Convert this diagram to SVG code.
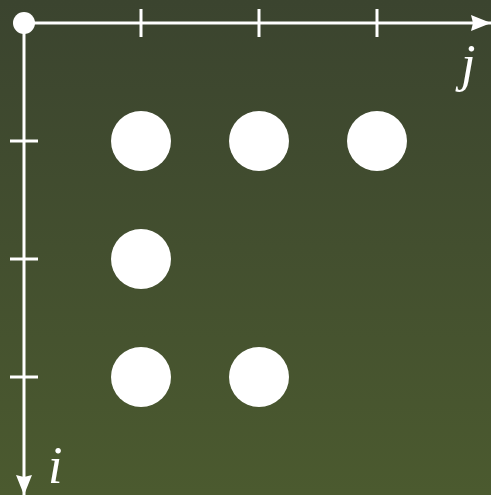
<svg xmlns="http://www.w3.org/2000/svg" width="491" height="495" viewBox="0 0 491 495">
<defs>
<linearGradient id="bg" x1="0" y1="0" x2="0" y2="1">
<stop offset="0" stop-color="#3b442f"/>
<stop offset="1" stop-color="#4b5a2f"/>
</linearGradient>
<marker id="arr" viewBox="0 0 20 16" refX="20" refY="8" markerWidth="20" markerHeight="16" markerUnits="userSpaceOnUse" orient="auto">
<path d="M0,0 L20,8 L0,16 L2,8 Z" fill="#fff"/>
</marker>
<style>
.ax{stroke:#fff;stroke-width:3;fill:none}
.dot{fill:#fff}
.lbl{font-family:"Liberation Serif",serif;font-style:italic;font-size:52px;fill:#fff}
</style>
</defs>
<rect width="491" height="495" fill="url(#bg)"/>
<g id="connectors">
<line class="ax" x1="24" y1="23" x2="491" y2="23" marker-end="url(#arr)"/>
<line class="ax" x1="24" y1="23" x2="24" y2="495" marker-end="url(#arr)"/>
<line class="ax" x1="141" y1="9" x2="141" y2="37"/>
<line class="ax" x1="259" y1="9" x2="259" y2="37"/>
<line class="ax" x1="377" y1="9" x2="377" y2="37"/>
<line class="ax" x1="10" y1="141" x2="38" y2="141"/>
<line class="ax" x1="10" y1="259" x2="38" y2="259"/>
<line class="ax" x1="10" y1="377" x2="38" y2="377"/>
</g>
<g id="origin"><circle class="dot" cx="24" cy="23" r="11"/></g>
<g id="p11"><circle class="dot" cx="141" cy="141" r="30"/></g>
<g id="p12"><circle class="dot" cx="259" cy="141" r="30"/></g>
<g id="p13"><circle class="dot" cx="377" cy="141" r="30"/></g>
<g id="p21"><circle class="dot" cx="141" cy="259" r="30"/></g>
<g id="p31"><circle class="dot" cx="141" cy="377" r="30"/></g>
<g id="p32"><circle class="dot" cx="259" cy="377" r="30"/></g>
<g id="label-j"><text class="lbl" x="461" y="81">j</text></g>
<g id="label-i"><text class="lbl" x="48" y="483">i</text></g>
</svg>
